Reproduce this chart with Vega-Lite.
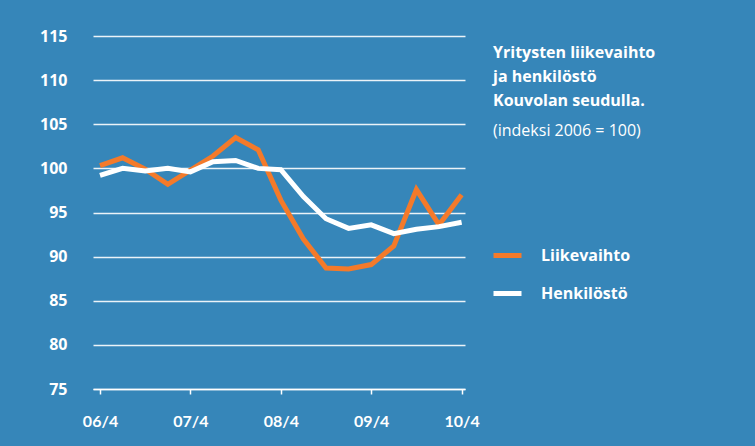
{
  "$schema": "https://vega.github.io/schema/vega-lite/v6.json",
  "autosize": "none",
  "width": 372,
  "height": 353,
  "padding": {"left": 93, "top": 36, "right": 290, "bottom": 57},
  "background": "#3686b9",
  "config": {
    "view": {"stroke": null},
    "font": "Open Sans"
  },
  "title": {
    "text": ["Yritysten liikevaihto", "ja henkilöstö", "Kouvolan seudulla."],
    "subtitle": "(indeksi 2006 = 100)",
    "orient": "top",
    "anchor": "start",
    "frame": "group",
    "dx": 400,
    "dy": 115,
    "font": "Open Sans",
    "fontSize": 16,
    "fontWeight": "bold",
    "color": "white",
    "lineHeight": 24,
    "subtitleFont": "Open Sans",
    "subtitleFontSize": 16,
    "subtitleColor": "white",
    "subtitlePadding": 14
  },
  "data": {
    "values": [
      {"i": 0, "kvartaali": "06/4", "sarja": "Liikevaihto", "indeksi": 100.3},
      {"i": 1, "kvartaali": "07/1", "sarja": "Liikevaihto", "indeksi": 101.2},
      {"i": 2, "kvartaali": "07/2", "sarja": "Liikevaihto", "indeksi": 99.9},
      {"i": 3, "kvartaali": "07/3", "sarja": "Liikevaihto", "indeksi": 98.2},
      {"i": 4, "kvartaali": "07/4", "sarja": "Liikevaihto", "indeksi": 99.8},
      {"i": 5, "kvartaali": "08/1", "sarja": "Liikevaihto", "indeksi": 101.4},
      {"i": 6, "kvartaali": "08/2", "sarja": "Liikevaihto", "indeksi": 103.5},
      {"i": 7, "kvartaali": "08/3", "sarja": "Liikevaihto", "indeksi": 102.1},
      {"i": 8, "kvartaali": "08/4", "sarja": "Liikevaihto", "indeksi": 96.4},
      {"i": 9, "kvartaali": "09/1", "sarja": "Liikevaihto", "indeksi": 92.0},
      {"i": 10, "kvartaali": "09/2", "sarja": "Liikevaihto", "indeksi": 88.7},
      {"i": 11, "kvartaali": "09/3", "sarja": "Liikevaihto", "indeksi": 88.6},
      {"i": 12, "kvartaali": "09/4", "sarja": "Liikevaihto", "indeksi": 89.1},
      {"i": 13, "kvartaali": "10/1", "sarja": "Liikevaihto", "indeksi": 91.2},
      {"i": 14, "kvartaali": "10/2", "sarja": "Liikevaihto", "indeksi": 97.6},
      {"i": 15, "kvartaali": "10/3", "sarja": "Liikevaihto", "indeksi": 93.6},
      {"i": 16, "kvartaali": "10/4", "sarja": "Liikevaihto", "indeksi": 97.0},
      {"i": 0, "kvartaali": "06/4", "sarja": "Henkilöstö", "indeksi": 99.2},
      {"i": 1, "kvartaali": "07/1", "sarja": "Henkilöstö", "indeksi": 100.0},
      {"i": 2, "kvartaali": "07/2", "sarja": "Henkilöstö", "indeksi": 99.7},
      {"i": 3, "kvartaali": "07/3", "sarja": "Henkilöstö", "indeksi": 100.0},
      {"i": 4, "kvartaali": "07/4", "sarja": "Henkilöstö", "indeksi": 99.6},
      {"i": 5, "kvartaali": "08/1", "sarja": "Henkilöstö", "indeksi": 100.75},
      {"i": 6, "kvartaali": "08/2", "sarja": "Henkilöstö", "indeksi": 100.9},
      {"i": 7, "kvartaali": "08/3", "sarja": "Henkilöstö", "indeksi": 100.0},
      {"i": 8, "kvartaali": "08/4", "sarja": "Henkilöstö", "indeksi": 99.85},
      {"i": 9, "kvartaali": "09/1", "sarja": "Henkilöstö", "indeksi": 96.8},
      {"i": 10, "kvartaali": "09/2", "sarja": "Henkilöstö", "indeksi": 94.3},
      {"i": 11, "kvartaali": "09/3", "sarja": "Henkilöstö", "indeksi": 93.2},
      {"i": 12, "kvartaali": "09/4", "sarja": "Henkilöstö", "indeksi": 93.6},
      {"i": 13, "kvartaali": "10/1", "sarja": "Henkilöstö", "indeksi": 92.6},
      {"i": 14, "kvartaali": "10/2", "sarja": "Henkilöstö", "indeksi": 93.1},
      {"i": 15, "kvartaali": "10/3", "sarja": "Henkilöstö", "indeksi": 93.4},
      {"i": 16, "kvartaali": "10/4", "sarja": "Henkilöstö", "indeksi": 93.9}
    ]
  },
  "mark": {"type": "line", "strokeWidth": 5, "strokeJoin": "miter"},
  "encoding": {
    "x": {
      "field": "i",
      "type": "quantitative",
      "scale": {"domain": [-0.31, 16.15], "nice": false, "zero": false},
      "axis": {
        "title": null,
        "values": [0, 4, 8, 12, 16],
        "labelExpr": "['06/4','07/4','08/4','09/4','10/4'][datum.value / 4]",
        "grid": false,
        "domainColor": "white",
        "domainWidth": 1.5,
        "tickColor": "white",
        "tickWidth": 1.5,
        "tickSize": 5,
        "labelColor": "white",
        "labelFont": "Lato",
        "labelFontSize": 16,
        "labelFontWeight": "bold",
        "labelPadding": 19,
        "labelDx": -4,
        "labelFlush": false
      }
    },
    "y": {
      "field": "indeksi",
      "type": "quantitative",
      "scale": {"domain": [75, 115], "nice": false, "zero": false},
      "axis": {
        "title": null,
        "values": [75, 80, 85, 90, 95, 100, 105, 110, 115],
        "domain": false,
        "ticks": false,
        "gridColor": "white",
        "gridWidth": 1.3,
        "gridOpacity": 0.9,
        "labelColor": "white",
        "labelFont": "Open Sans",
        "labelFontSize": 16,
        "labelFontWeight": "bold",
        "labelPadding": 26
      }
    },
    "color": {
      "field": "sarja",
      "type": "nominal",
      "scale": {"domain": ["Liikevaihto", "Henkilöstö"], "range": ["#f47a2a", "#ffffff"]},
      "legend": {
        "title": null,
        "orient": "none",
        "legendX": 398,
        "legendY": 203,
        "symbolType": "stroke",
        "symbolSize": 784,
        "symbolStrokeWidth": 5,
        "labelColor": "white",
        "labelFont": "Open Sans",
        "labelFontSize": 16,
        "labelFontWeight": "bold",
        "labelOffset": 17,
        "rowPadding": 11
      }
    }
  }
}
